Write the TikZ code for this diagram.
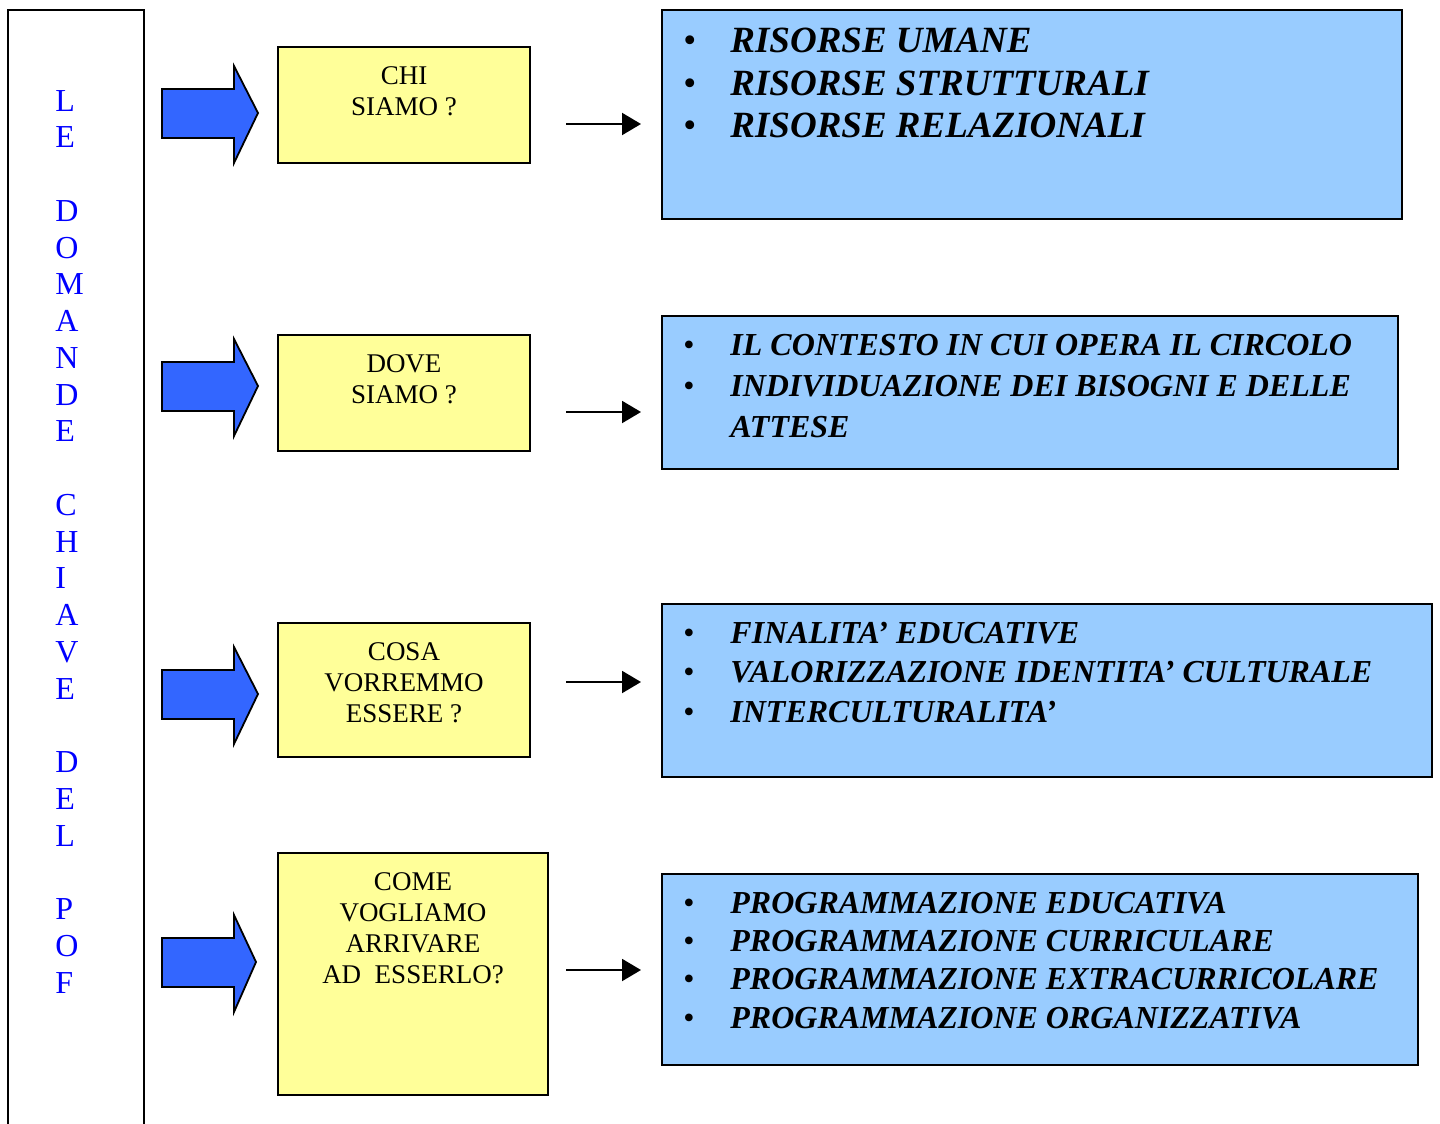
\documentclass[tikz,border=0pt]{standalone}
\usepackage{fontspec}
\setmainfont{Liberation Serif}
\usetikzlibrary{arrows.meta,fit,positioning}

\definecolor{vang}{HTML}{FFFF99}
\definecolor{xanhnhat}{HTML}{99CCFF}
\definecolor{xanhmuiten}{HTML}{3366FF}

\newcommand{\cham}{{\mdseries\upshape\textbullet}}

\tikzset{
  hopvang/.style={draw, line width=0.9pt, fill=vang, inner sep=0pt},
  hopxanh/.style={draw, line width=0.9pt, fill=xanhnhat, inner sep=0pt},
  muitenlon/.style={draw, line width=0.9pt, fill=xanhmuiten, line join=miter},
  muiten/.style={line width=1pt, -{Triangle[length=9.5pt,width=11pt]}},
  chucai/.style={text=blue, font=\fontsize{16}{18}\selectfont, inner sep=0pt, anchor=base west},
  cauhoi/.style={font=\fontsize{13.5}{15.5}\selectfont, inner sep=0pt, anchor=base},
  danhsach/.style 2 args={font=\fontsize{#1}{#2}\selectfont\bfseries\itshape, inner sep=0pt, anchor=base west}
}

\begin{document}
\begin{tikzpicture}[x=0.5pt,y=-0.5pt]
    % Khung hình
    \useasboundingbox (0,0) rectangle (1440,1124);

    % Cột bên trái
    \draw[line width=0.9pt] (8,1140) -- (8,10) -- (144,10) -- (144,1140);
    \foreach \ch [count=\i] in {L,E,,D,O,M,A,N,D,E,,C,H,I,A,V,E,,D,E,L,,P,O,F}
        \node[chucai] (c\i) at (55,{111+36.75*(\i-1)}) {\ch};

    % Mũi tên lớn màu xanh
    \foreach \yc/\xt in {113/258, 386/258, 694/258, 962/256}
        \draw[muitenlon] (162,\yc-24) -- (234,\yc-24) -- (234,\yc-47) -- (\xt,\yc)
            -- (234,\yc+50) -- (234,\yc+25) -- (162,\yc+25) -- cycle;

    % Các hộp câu hỏi
    \node[hopvang, fit={(278,47) (530,163)}] (q1) {};
    \node[hopvang, fit={(278,335) (530,451)}] (q2) {};
    \node[hopvang, fit={(278,623) (530,757)}] (q3) {};
    \node[hopvang, fit={(278,853) (548,1095)}] (q4) {};

    \node[cauhoi] (t1) at (404,84) {\begin{tabular}[t]{@{}c@{}}CHI\\SIAMO ?\end{tabular}};
    \node[cauhoi] (t2) at (404,372) {\begin{tabular}[t]{@{}c@{}}DOVE\\SIAMO ?\end{tabular}};
    \node[cauhoi] (t3) at (404,660) {\begin{tabular}[t]{@{}c@{}}COSA\\VORREMMO\\ESSERE ?\end{tabular}};
    \node[cauhoi] (t4) at (413,890) {\begin{tabular}[t]{@{}c@{}}COME\\VOGLIAMO\\ARRIVARE\\AD\ \ ESSERLO?\end{tabular}};

    % Các hộp trả lời
    \node[hopxanh, fit={(662,10) (1402,219)}] (r1) {};
    \node[hopxanh, fit={(662,316) (1398,469)}] (r2) {};
    \node[hopxanh, fit={(662,604) (1432,777)}] (r3) {};
    \node[hopxanh, fit={(662,874) (1418,1065)}] (r4) {};

    \node[danhsach={18.5}{21.5}] (d1) at (683,52) {\begin{tabular}[t]{@{}p{23.5pt}@{}l@{}}
        \cham & RISORSE UMANE\\
        \cham & RISORSE STRUTTURALI\\
        \cham & RISORSE RELAZIONALI
    \end{tabular}};
    \node[danhsach={16}{20.5}] (d2) at (683,355) {\begin{tabular}[t]{@{}p{23.5pt}@{}l@{}}
        \cham & IL CONTESTO IN CUI OPERA IL CIRCOLO\\
        \cham & INDIVIDUAZIONE DEI BISOGNI E DELLE\\
              & ATTESE
    \end{tabular}};
    \node[danhsach={16}{19.75}] (d3) at (683,643) {\begin{tabular}[t]{@{}p{23.5pt}@{}l@{}}
        \cham & FINALITA’ EDUCATIVE\\
        \cham & VALORIZZAZIONE IDENTITA’ CULTURALE\\
        \cham & INTERCULTURALITA’
    \end{tabular}};
    \node[danhsach={16}{19.2}] (d4) at (683,913) {\begin{tabular}[t]{@{}p{23.5pt}@{}l@{}}
        \cham & PROGRAMMAZIONE EDUCATIVA\\
        \cham & PROGRAMMAZIONE CURRICULARE\\
        \cham & PROGRAMMAZIONE EXTRACURRICOLARE\\
        \cham & PROGRAMMAZIONE ORGANIZZATIVA
    \end{tabular}};

    % Mũi tên nhỏ
    \foreach \y [count=\i] in {124,412,682,970} {
        \coordinate (s\i) at (566,\y);
        \coordinate (e\i) at (641,\y);
        \draw[muiten] (s\i) -- (e\i);
    }
\end{tikzpicture}
\end{document}
